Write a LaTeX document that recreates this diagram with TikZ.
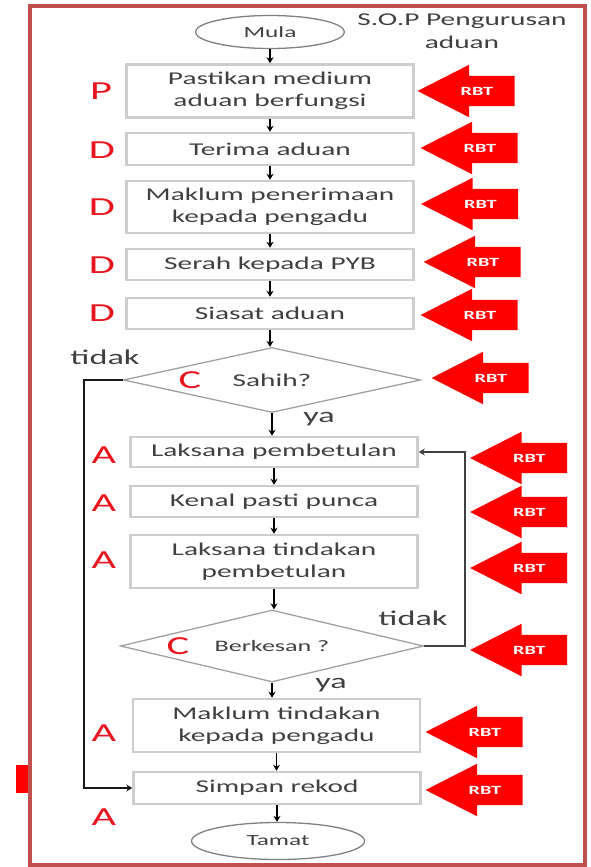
\documentclass[tikz,border=0pt]{standalone}
\usepackage{fontspec}
\setmainfont{Carlito}[FakeStretch=1.63]
\usetikzlibrary{shapes.geometric,shapes.arrows,arrows.meta}
\definecolor{framered}{RGB}{192,80,77}
\definecolor{boxgray}{RGB}{205,205,205}
\definecolor{diagray}{RGB}{160,160,160}
\definecolor{txtgray}{RGB}{64,64,64}
\definecolor{pdcared}{RGB}{232,20,30}
\definecolor{rbtred}{RGB}{255,0,0}
\tikzset{
  box/.style={draw=boxgray,line width=2.5pt,fill=white,minimum width=287pt,text=txtgray,align=center,inner sep=1pt,font=\fontsize{18}{22}\selectfont},
  decision/.style={diamond,draw=diagray,line width=1.3pt,aspect=4.5,inner sep=0pt,text=txtgray},
  term/.style={ellipse,draw=gray,line width=1.3pt,text=txtgray,inner sep=0pt,font=\fontsize{15.5}{18}\selectfont},
  flow/.style={-{Stealth[length=6pt,width=7pt]},line width=1.7pt,black},
  pdca/.style={text=pdcared,font=\fontsize{26}{26}\selectfont},
  answer/.style={text=txtgray,font=\fontsize{21}{21}\selectfont},
  rbttext/.style={text=white,font=\bfseries\fontsize{12.5}{13}\selectfont},
  rbt/.style={single arrow,shape border rotate=180,fill=rbtred,minimum height=97pt,minimum width=52pt,
    single arrow head extend=11pt,single arrow tip angle=54,inner sep=0pt,text height=15pt,text depth=15pt,
    xshift=14pt,label={[rbttext,xshift=-4pt]center:RBT}}
}
\begin{document}
\begin{tikzpicture}[x=1pt,y=-1pt]
\useasboundingbox (0,0) rectangle (590,867);
\draw[framered,line width=3.5pt] (30,6) rectangle (585,865);
\fill[rbtred] (16,765) rectangle (28,793);

\node[text=txtgray,align=center,font=\fontsize{18}{23}\selectfont] (judul) at (462,31) {S.O.P Pengurusan\\aduan};
\node[term,minimum width=149pt,minimum height=33pt] (mula) at (270,32) {Mula};
\node[box,minimum height=53pt] (pastikan) at (270,91) {Pastikan medium\\aduan berfungsi};
\node[box,minimum height=32pt] (terima) at (270,149) {Terima aduan};
\node[box,minimum height=52pt] (maklum) at (270,207) {Maklum penerimaan\\kepada pengadu};
\node[box,minimum height=31pt] (serah) at (270,264.5) {Serah kepada PYB};
\node[box,minimum height=31pt] (siasat) at (270,313.5) {Siasat aduan};
\node[decision,minimum width=297pt,minimum height=65pt,font=\fontsize{18}{22}\selectfont] (sahih) at (272,380) {Sahih?};
\node[box,minimum height=30pt] (laksana) at (274,452) {Laksana pembetulan};
\node[box,minimum height=31pt] (kenal) at (274,501.5) {Kenal pasti punca};
\node[box,minimum height=53pt] (tindakan) at (274,561.5) {Laksana tindakan\\pembetulan};
\node[decision,minimum width=303pt,minimum height=72pt,font=\fontsize{16}{20}\selectfont] (berkesan) at (272,646) {Berkesan ?};
\node[box,minimum height=53pt] (makluman) at (276.5,725.5) {Maklum tindakan\\kepada pengadu};
\node[box,minimum height=32pt] (simpan) at (277,788) {Simpan rekod};
\node[term,minimum width=173pt,minimum height=37pt] (tamat) at (278,841) {Tamat};

\draw[flow] (mula.south) -- (mula.south |- pastikan.north);
\draw[flow] (pastikan.south) -- (pastikan.south |- terima.north);
\draw[flow] (terima.south) -- (terima.south |- maklum.north);
\draw[flow] (maklum.south) -- (maklum.south |- serah.north);
\draw[flow] (serah.south) -- (serah.south |- siasat.north);
\draw[flow] (siasat.south) -- (siasat.south |- sahih.north);
\draw[flow] (sahih.south) -- (sahih.south |- laksana.north);
\draw[flow] (laksana.south) -- (laksana.south |- kenal.north);
\draw[flow] (kenal.south) -- (kenal.south |- tindakan.north);
\draw[flow] (tindakan.south) -- (tindakan.south |- berkesan.north);
\draw[flow] (berkesan.south) -- (berkesan.south |- makluman.north);
\draw[flow] (makluman.south) -- (makluman.south |- simpan.north);
\draw[flow] (simpan.south) -- (simpan.south |- tamat.north);

\coordinate (kiri) at (84,380);
\coordinate (kanan) at (465,646);
\draw[flow,line width=2.2pt,black!90] (sahih.west) -- (kiri) |- (simpan.west);
\draw[flow,line width=2.2pt,txtgray] (berkesan.east) -- (kanan) |- (laksana.east);

\node[answer] (tidaksahih) at (105,357) {tidak};
\node[answer] (yasahih) at (319,419) {ya};
\node[answer] (tidakkesan) at (413,618) {tidak};
\node[answer] (yakesan) at (331,685) {ya};

\node[pdca] (p1) at (101,91) {P};
\node[pdca] (d1) at (102,150) {D};
\node[pdca] (d2) at (102,207) {D};
\node[pdca] (d3) at (102,265) {D};
\node[pdca] (d4) at (102,313) {D};
\node[pdca] (c1) at (190,380) {C};
\node[pdca] (a1) at (104,455) {A};
\node[pdca] (a2) at (104,503) {A};
\node[pdca] (a3) at (104,560) {A};
\node[pdca] (c2) at (178,646) {C};
\node[pdca] (a4) at (104,733) {A};
\node[pdca] (a5) at (104,817) {A};

\node[rbt] (rbt1) at (467,91) {};
\node[rbt] (rbt2) at (470,148) {};
\node[rbt] (rbt3) at (470.5,204) {};
\node[rbt] (rbt4) at (473,262) {};
\node[rbt] (rbt5) at (470,315) {};
\node[rbt] (rbt6) at (481,378) {};
\node[rbt] (rbt7) at (519.5,458) {};
\node[rbt] (rbt8) at (519.5,512) {};
\node[rbt] (rbt9) at (519.5,568) {};
\node[rbt] (rbt10) at (519.5,650) {};
\node[rbt] (rbt11) at (475,732) {};
\node[rbt] (rbt12) at (475,790) {};
\end{tikzpicture}
\end{document}
